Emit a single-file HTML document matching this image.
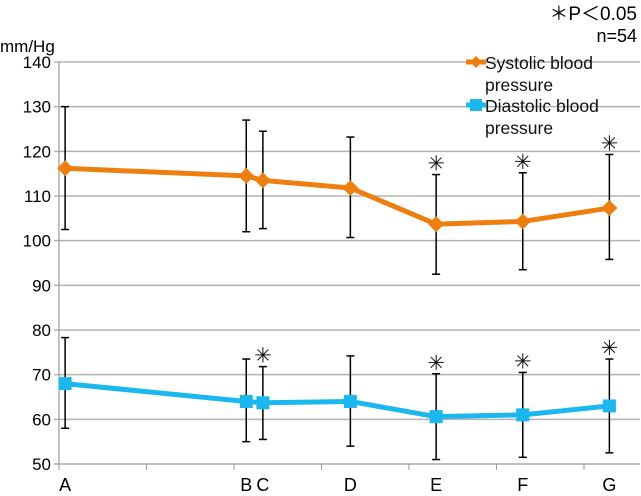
<!DOCTYPE html>
<html><head><meta charset="utf-8"><style>
html,body{margin:0;padding:0;background:#fff;}
svg{display:block;font-family:"Liberation Sans","Noto Sans CJK JP",sans-serif;}
</style></head><body>
<svg id="chart" width="641" height="496" viewBox="0 0 641 496">
<g id="grid"></g>
<g id="yticks"></g>
<g id="xaxis"></g>
<g id="series"></g>
<text x="0" y="52" font-size="17" fill="#000">mm/Hg</text>
<text x="637" y="20" font-size="19" text-anchor="end" fill="#000">＊P＜0.05</text>
<text x="637" y="42" font-size="18" text-anchor="end" fill="#000">n=54</text>
<g>
 <g>
  <line x1="466" y1="62" x2="486" y2="62" stroke="#EE7F0E" stroke-width="5"/>
  <path d="M476 56 L482 62 L476 68 L470 62 Z" fill="#EE7F0E"/>
  <text x="485" y="69" font-size="17.5" fill="#111">Systolic blood</text>
  <text x="485" y="91" font-size="17.5" fill="#111">pressure</text>
 </g>
 <g>
  <line x1="466" y1="105" x2="486" y2="105" stroke="#1AB8EE" stroke-width="5"/>
  <rect x="470" y="99" width="12" height="12" fill="#1AB8EE"/>
  <text x="485" y="112" font-size="17.5" fill="#111">Diastolic blood</text>
  <text x="485" y="134" font-size="17.5" fill="#111">pressure</text>
 </g>
</g>
</svg>
<script>
const categories = ["A","B","C","D","E","F","G"];
const xPositions = [0.07, 2.14, 2.33, 3.33, 4.31, 5.30, 6.29];
const yTicks = [50,60,70,80,90,100,110,120,130,140];
const systolic = [116.2, 114.5, 113.5, 111.8, 103.7, 104.3, 107.3];
const systolicLow = [102.5, 102, 102.7, 100.7, 92.5, 93.5, 95.8];
const systolicHigh = [130, 127, 124.5, 123.2, 114.8, 115.2, 119.3];
const diastolic = [68, 64, 63.7, 64, 60.6, 61, 63];
const diastolicLow = [58, 55, 55.5, 54, 51, 51.5, 52.5];
const diastolicHigh = [78.3, 73.5, 71.8, 74.2, 70.2, 70.5, 73.5];
const systolicSig = [false,false,false,false,true,true,true];
const diastolicSig = [false,false,true,false,true,true,true];

const NS="http://www.w3.org/2000/svg";
const L=59,R=640,T=62,B=464,XMAX=6.64,YMIN=50,YMAX=140;
const xs=v=>L+(v/XMAX)*(R-L);
const ys=v=>B-(v-YMIN)/(YMAX-YMIN)*(B-T);
function mk(tag,attrs,parent){const e=document.createElementNS(NS,tag);for(const k in attrs)e.setAttribute(k,attrs[k]);parent.appendChild(e);return e;}
const grid=document.getElementById('grid'),yt=document.getElementById('yticks'),xa=document.getElementById('xaxis'),ser=document.getElementById('series');
yTicks.forEach(t=>{
 const y=ys(t);
 if(t>YMIN){const g=mk('line',{x1:L-5,y1:y,x2:R,y2:y,stroke:'#b3b3b3','stroke-width':1.5},grid);
 
 }
 const tx=mk('text',{x:L-8,y:y+6,'font-size':17,'text-anchor':'end',fill:'#000'},yt);
 tx.textContent=t;
 
 
});
mk('line',{x1:L,y1:T,x2:L,y2:B,stroke:'#999','stroke-width':1.2},xa);
mk('line',{x1:L-5,y1:B,x2:R,y2:B,stroke:'#999','stroke-width':1.2},xa);
for(let i=0;i<=6;i++){mk('line',{x1:xs(i),y1:B,x2:xs(i),y2:B+6,stroke:'#999','stroke-width':1},xa);}
categories.forEach((c,i)=>{
 const tx=mk('text',{x:xs(xPositions[i]),y:491,'font-size':18,'text-anchor':'middle',fill:'#000'},xa);
 tx.textContent=c;
 
 
});
function drawSeries(vals,lo,hi,sig,color,shape,name){
 const g=mk('g',{},ser);
 
 
 vals.forEach((v,i)=>{
  const x=xs(xPositions[i]);
  mk('line',{x1:x,y1:ys(lo[i]),x2:x,y2:ys(hi[i]),stroke:'#000','stroke-width':1.5},g);
  mk('line',{x1:x-4,y1:ys(lo[i]),x2:x+4,y2:ys(lo[i]),stroke:'#000','stroke-width':1.5},g);
  mk('line',{x1:x-4,y1:ys(hi[i]),x2:x+4,y2:ys(hi[i]),stroke:'#000','stroke-width':1.5},g);
  if(sig[i]){const s=mk('text',{x:x,y:ys(hi[i])-4,'font-size':21,'text-anchor':'middle',fill:'#111'},g);s.textContent='✳';
   
   }
 });
 mk('polyline',{points:vals.map((v,i)=>xs(xPositions[i])+','+ys(v)).join(' '),fill:'none',stroke:color,'stroke-width':5,'stroke-linejoin':'round'},g);
 vals.forEach((v,i)=>{
  const x=xs(xPositions[i]),y=ys(v);let m;
  if(shape==='diamond')m=mk('path',{d:`M${x} ${y-8}L${x+8} ${y}L${x} ${y+8}L${x-8} ${y}Z`,fill:color},g);
  else m=mk('rect',{x:x-6.5,y:y-6.5,width:13,height:13,fill:color},g);
  
  
 });
}
drawSeries(systolic,systolicLow,systolicHigh,systolicSig,'#EE7F0E','diamond','systolic');
drawSeries(diastolic,diastolicLow,diastolicHigh,diastolicSig,'#1AB8EE','square','diastolic');
</script>
</body></html>
